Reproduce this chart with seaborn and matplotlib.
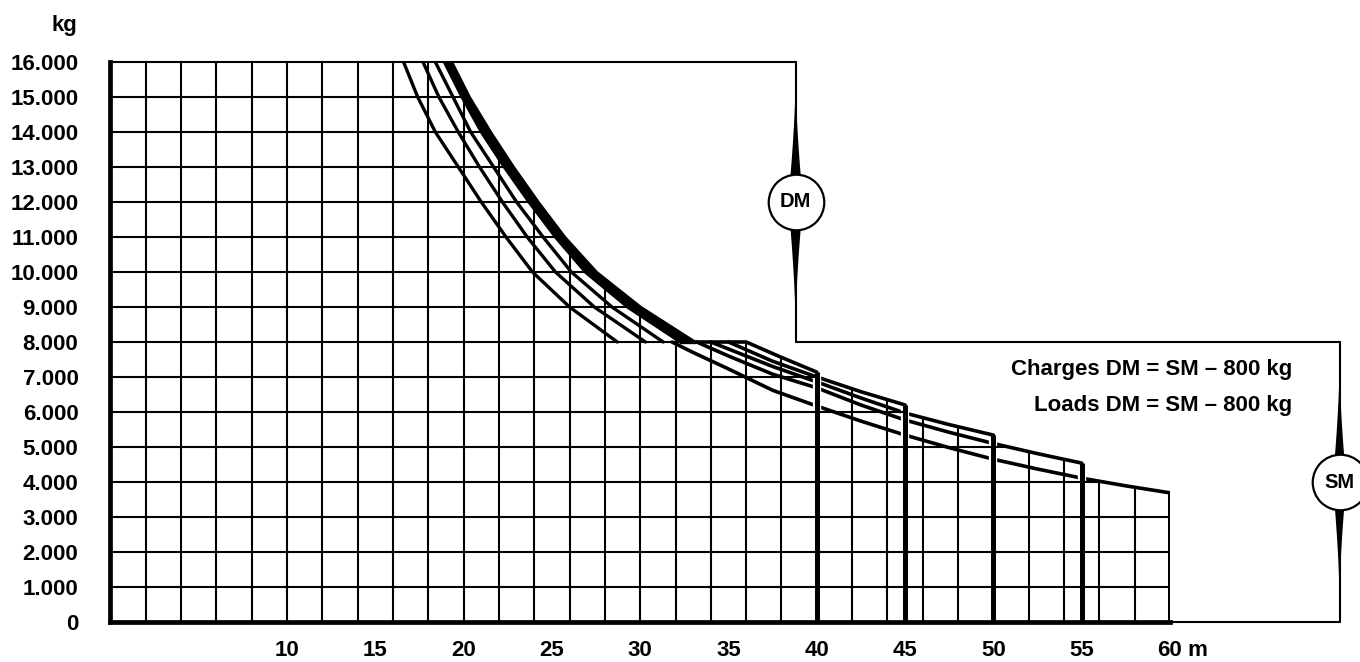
import numpy as np
import seaborn as sns
import matplotlib.pyplot as plt
from matplotlib.patches import Polygon

jibs = [40, 45, 50, 55, 60]

# double mouflage (DM), de 16.000 a 8.000 kg
dm_kg = [16000, 15000, 14000, 13000, 12000, 11000, 10000, 9000, 8000]
dm_x_40 = [19.3, 20.3, 21.5, 22.8, 24.2, 25.7, 27.5, 30.0, 33.1]
dm_x_45 = [18.9, 19.9, 21.0, 22.3, 23.7, 25.2, 26.9, 29.3, 32.3]
dm_x_50 = [18.4, 19.4, 20.4, 21.7, 23.0, 24.5, 26.1, 28.4, 31.3]
dm_x_55 = [17.7, 18.6, 19.7, 20.9, 22.2, 23.6, 25.2, 27.4, 30.3]
dm_x_60 = [16.6, 17.4, 18.4, 19.7, 21.0, 22.4, 23.9, 26.0, 28.7]

# simple mouflage (SM), sous 8.000 kg
sm_x_40 = [33.1, 36.0, 38.0, 40.0]
sm_kg_40 = [8000, 8000, 7560, 7140]
sm_x_45 = [35.0, 37.5, 40.0, 42.5, 45.0]
sm_kg_45 = [8000, 7450, 7000, 6580, 6200]
sm_x_50 = [34.0, 35.0, 37.5, 40.0, 42.5, 45.0, 47.5, 50.0]
sm_kg_50 = [8000, 7800, 7300, 6860, 6400, 5970, 5640, 5340]
sm_x_55 = [33.2, 35.0, 37.5, 40.0, 42.5, 45.0, 47.5, 50.0, 52.5, 55.0]
sm_kg_55 = [8000, 7600, 7080, 6690, 6200, 5770, 5420, 5100, 4810, 4540]
sm_x_60 = [31.8, 33.0, 35.0, 37.5, 40.0, 42.5, 45.0, 47.5, 50.0, 52.5, 55.0, 57.5, 60.0]
sm_kg_60 = [8000, 7700, 7230, 6620, 6170, 5740, 5340, 4980, 4650, 4370, 4110, 3890, 3690]

y_ticks = [0, 1000, 2000, 3000, 4000, 5000, 6000, 7000, 8000,
           9000, 10000, 11000, 12000, 13000, 14000, 15000, 16000]
y_labels = ['0', '1.000', '2.000', '3.000', '4.000', '5.000', '6.000', '7.000', '8.000',
            '9.000', '10.000', '11.000', '12.000', '13.000', '14.000', '15.000', '16.000']
x_ticks = [10, 15, 20, 25, 30, 35, 40, 45, 50, 55, 60]
x_labels = ['10', '15', '20', '25', '30', '35', '40', '45', '50', '55', '60']
grid_x = list(range(2, 60, 2))
grid_y = list(range(1000, 16000, 1000))
notes = ['Charges DM = SM \u2013 800 kg', 'Loads DM = SM \u2013 800 kg']

DM_MAX = 16000
SM_MAX = 8000
DM_BOX_X = 38.8
SM_BOX_X = 69.6

dm_curves = [dm_x_40, dm_x_45, dm_x_50, dm_x_55, dm_x_60]
sm_curves = [(sm_x_40, sm_kg_40), (sm_x_45, sm_kg_45), (sm_x_50, sm_kg_50),
             (sm_x_55, sm_kg_55), (sm_x_60, sm_kg_60)]

sns.set_style('white')
plt.rcParams['font.family'] = ['Liberation Sans', 'DejaVu Sans']
plt.rcParams['font.weight'] = 'bold'
plt.rcParams['text.color'] = 'black'
plt.rcParams['xtick.color'] = 'black'
plt.rcParams['ytick.color'] = 'black'

fig = plt.figure(figsize=(13.6, 6.62), dpi=100)
ax = fig.add_axes([110.4 / 1360, 40 / 662, 1059.6 / 1360, 560 / 662])
ax.set_xlim(0, 60)
ax.set_ylim(0, DM_MAX)

# courbes
for xs in dm_curves[2:]:
  sns.lineplot(x=xs, y=dm_kg, ax=ax, color='black', lw=2.4, sort=False,
               estimator=None, zorder=2)
ax.fill_betweenx(dm_kg, dm_x_45, dm_x_40, color='black', lw=2.4, zorder=2)
for xs, ks in sm_curves:
  sns.lineplot(x=xs, y=ks, ax=ax, color='black', lw=2.6, sort=False,
               estimator=None, zorder=2)

# quadrillage limite a la zone sous les courbes
xx = np.linspace(0, 60, 1201)
env = np.zeros_like(xx)
for xs in dm_curves:
  env = np.maximum(env, np.interp(xx, xs, dm_kg, left=DM_MAX, right=0))
for xs, ks in sm_curves:
  env = np.maximum(env, np.interp(xx, xs, ks, left=0, right=0))
verts = [(0, 0)] + list(zip(xx, env)) + [(60, 0)]
clip = Polygon(verts, closed=True, transform=ax.transData)

hl = ax.hlines(grid_y, 0, 60, color='black', lw=1.5, zorder=3.5)
vl = ax.vlines(grid_x, 0, DM_MAX, color='black', lw=1.5, zorder=3.5)
hl.set_clip_path(clip)
vl.set_clip_path(clip)

# traits verticaux des fleches
tops = [sm_kg_40[-1], sm_kg_45[-1], sm_kg_50[-1], sm_kg_55[-1], sm_kg_60[-1]]
ax.vlines(jibs[:-1], 0, [t - 110 for t in tops[:-1]], color='white', lw=6, zorder=3)
ax.vlines(jibs, 0, tops, color='black', lw=3.6, zorder=6)

# cadre DM / SM
box = dict(color='black', lw=1.5, clip_on=False, zorder=4)
ax.plot([0, DM_BOX_X], [DM_MAX, DM_MAX], **box)
ax.plot([DM_BOX_X, DM_BOX_X], [DM_MAX, SM_MAX], **box)
ax.plot([DM_BOX_X, SM_BOX_X], [SM_MAX, SM_MAX], **box)
ax.plot([SM_BOX_X, SM_BOX_X], [SM_MAX, 0], **box)
ax.plot([60, SM_BOX_X], [0, 0], **box)

def spindle(x, tip, base, half_w):
  t = np.linspace(0, 1, 30)
  ys = tip + (base - tip) * t
  w = half_w * t ** 1.6
  pts = list(zip(x - w, ys)) + list(zip((x + w)[::-1], ys[::-1]))
  ax.add_patch(Polygon(pts, closed=True, color='black', lw=0, clip_on=False, zorder=5))

def badge(x, y, label, half_w, reach):
  spindle(x, y + reach, y + 700, half_w)
  spindle(x, y - reach, y - 700, half_w)
  ax.plot([x], [y], marker='o', ms=40, mfc='white', mec='black', mew=1.6,
          clip_on=False, zorder=7)
  ax.text(x, y, label, ha='center', va='center', fontsize=14.5, zorder=8)

badge(DM_BOX_X, 12000, 'DM', 0.3, 3600)
badge(SM_BOX_X, 4000, 'SM', 0.27, 3400)

for i, n in enumerate(notes):
  ax.text(66.9, 7200 - i * 1000, n, ha='right', va='center', fontsize=16)

# axes
for s in ['top', 'right']:
  ax.spines[s].set_visible(False)
for s in ['left', 'bottom']:
  ax.spines[s].set_linewidth(3.4)
  ax.spines[s].set_color('black')
  ax.spines[s].set_zorder(6)

ax.set_xticks(x_ticks)
ax.set_xticklabels(x_labels, fontsize=16)
ax.set_yticks(y_ticks)
ax.set_yticklabels(y_labels, fontsize=16)
ax.set_yticks([SM_MAX, DM_MAX], minor=True)
ax.tick_params(axis='x', direction='out', length=7.2, width=2.2, pad=6)
ax.tick_params(axis='y', which='major', length=0, pad=23)
ax.tick_params(axis='y', which='minor', direction='out', length=8.5, width=1.5)
ax.annotate(' m', xy=(60, 0), xytext=(12, -18), textcoords='offset pixels',
            ha='left', va='top', fontsize=16)
ax.annotate('kg', xy=(0, DM_MAX), xytext=(-33, 37), textcoords='offset pixels',
            ha='right', va='center', fontsize=16)

fig.savefig('out.png', dpi=100)
